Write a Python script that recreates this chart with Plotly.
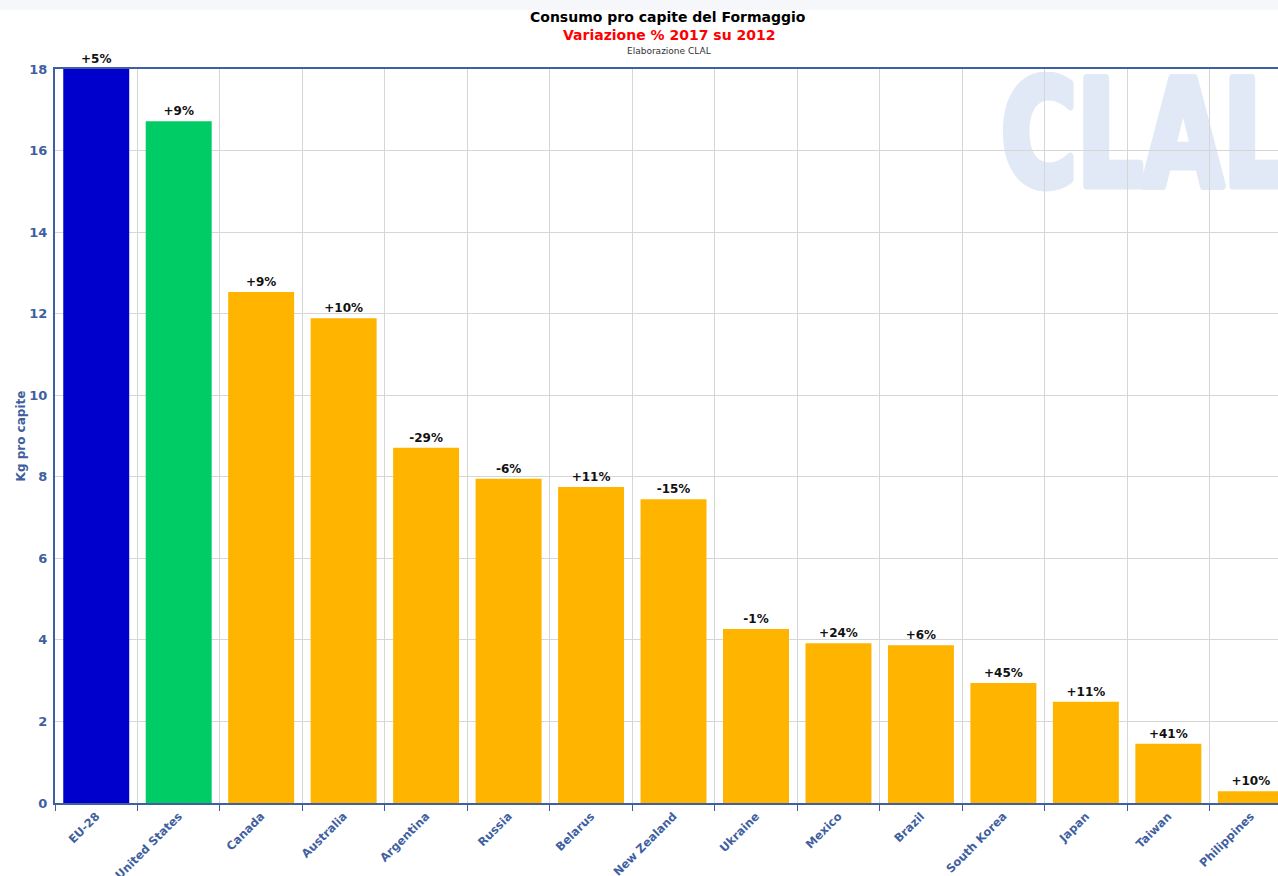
import base64
import plotly.graph_objects as go

countries = ["EU-28", "United States", "Canada", "Australia", "Argentina", "Russia",
             "Belarus", "New Zealand", "Ukraine", "Mexico", "Brazil", "South Korea",
             "Japan", "Taiwan", "Philippines"]
kg_per_capita = [18.0, 16.72, 12.53, 11.89, 8.71, 7.95, 7.75, 7.45, 4.27, 3.92, 3.87,
                 2.94, 2.48, 1.45, 0.29]
variation_labels = ["+5%", "+9%", "+9%", "+10%", "-29%", "-6%", "+11%", "-15%", "-1%",
                    "+24%", "+6%", "+45%", "+11%", "+41%", "+10%"]
bar_colors = ["#0000cc", "#00cc66"] + ["#ffb400"] * 13
y_ticks = [0, 2, 4, 6, 8, 10, 12, 14, 16, 18]

AX = "#3f5fa0"
FONT = "DejaVu Sans"
PH = 734.0   # plot height in px
PW = 1223.0  # plot width in px

# watermark logo as an inline SVG image
svg = ('<svg xmlns="http://www.w3.org/2000/svg" width="300" height="120" viewBox="0 0 300 120">'
       '<text x="6" y="113" font-family="DejaVu Sans" font-weight="bold" font-size="146" '
       'textLength="288" lengthAdjust="spacingAndGlyphs" fill="#e2e9f6" stroke="#e2e9f6" '
       'stroke-width="9" stroke-linejoin="round">CLAL</text></svg>')
svg_uri = "data:image/svg+xml;base64," + base64.b64encode(svg.encode()).decode()

fig = go.Figure()
fig.add_trace(go.Bar(
    x=countries, y=kg_per_capita,
    marker=dict(color=bar_colors, line=dict(width=0)),
    width=0.8,
    text=variation_labels, textposition="outside",
    textfont=dict(family=FONT, size=12, color="#111111", weight="bold"),
    cliponaxis=False,
    hoverinfo="x+y",
))

annotations = [
    dict(text="Consumo pro capite del Formaggio", xref="paper", yref="paper",
         x=(668 - 55) / PW, y=1 + 52 / PH, xanchor="center", yanchor="middle",
         showarrow=False, font=dict(family=FONT, size=14, color="black", weight="bold")),
    dict(text="Variazione % 2017 su 2012", xref="paper", yref="paper",
         x=(669 - 55) / PW, y=1 + 34 / PH, xanchor="center", yanchor="middle",
         showarrow=False, font=dict(family=FONT, size=14, color="red", weight="bold")),
    dict(text="Elaborazione CLAL", xref="paper", yref="paper",
         x=(669 - 55) / PW, y=1 + 18 / PH, xanchor="center", yanchor="middle",
         showarrow=False, font=dict(family=FONT, size=9, color="#333333")),
]

fig.update_layout(
    width=1278, height=876,
    margin=dict(l=55, r=0, t=69, b=73, autoexpand=False),
    paper_bgcolor="white", plot_bgcolor="rgba(0,0,0,0)",
    showlegend=False,
    font=dict(family=FONT),
    xaxis=dict(
        range=[-0.5, -0.5 + PW / 82.47],
        automargin=False,
        tickson="boundaries",
        showgrid=True, gridcolor="#d6d6d6", gridwidth=1,
        showline=True, linecolor=AX, linewidth=2, mirror=True,
        ticks="outside", ticklen=6, tickcolor=AX,
        tickangle=-45,
        tickfont=dict(family=FONT, size=11.5, color=AX, weight="bold"),
        zeroline=False,
    ),
    yaxis=dict(
        range=[0, 18],
        automargin=False,
        tickvals=y_ticks,
        showgrid=True, gridcolor="#d6d6d6", gridwidth=1,
        showline=True, linecolor=AX, linewidth=2,
        ticks="", ticklabelstandoff=3,
        tickfont=dict(family=FONT, size=13, color=AX, weight="bold"),
        title=dict(text="Kg pro capite", standoff=1,
                   font=dict(family=FONT, size=12, color=AX, weight="bold")),
        zeroline=False,
    ),
    shapes=[dict(type="rect", xref="paper", yref="paper", x0=-0.1, x1=1.1,
                 y0=1 + 59 / PH, y1=1 + 70 / PH, fillcolor="#f6f7fb",
                 line=dict(width=0), layer="below")],
    images=[dict(source=svg_uri, xref="paper", yref="paper",
                 x=(995 - 55) / PW, y=1 - (72 - 69) / PH,
                 sizex=300 / PW, sizey=120 / PH, sizing="stretch",
                 xanchor="left", yanchor="top", layer="below")],
    annotations=annotations,
)

fig.write_html("out.html",
               config={"displayModeBar": False},
               post_script="document.body.style.margin='0';document.body.style.overflow='hidden';")
